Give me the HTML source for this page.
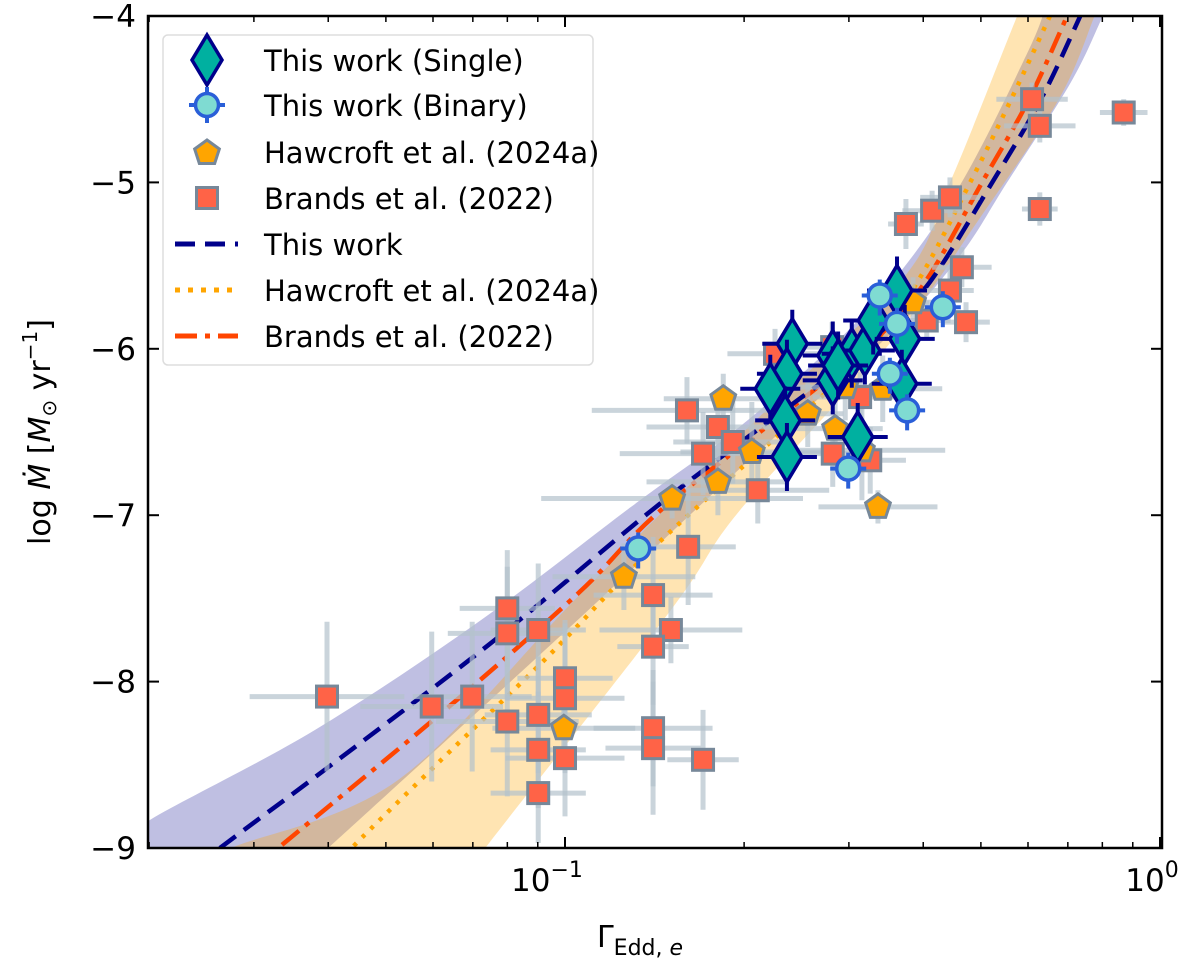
<!DOCTYPE html>
<html><head><meta charset="utf-8"><style>
body{margin:0;background:#fff;}
svg text{font-family:"DejaVu Sans","Liberation Sans",sans-serif;fill:#000;}
</style></head><body>
<svg id="chart" width="1200" height="963" xmlns="http://www.w3.org/2000/svg">
<defs><clipPath id="clip"><rect x="148" y="16" width="1014" height="832"/></clipPath></defs>
<g id="bands" clip-path="url(#clip)"></g>
<g id="fits" clip-path="url(#clip)"></g>
<g id="errs" clip-path="url(#clip)"></g>
<g id="marks" clip-path="url(#clip)"></g>
<g id="axes"></g>
<g id="legend"></g>
</svg>
<script>
// ---- data (log10 Gamma, log Mdot) ----
const brandsLg=[-1.400,-1.224,-1.156,-1.097,-1.097,-1.045,-1.000,-1.000,-1.045,-1.097,-1.045,-1.000,-1.045,-0.852,-0.822,-0.852,-0.793,-0.852,-0.852,-0.768,-0.795,-0.743,-0.718,-0.768,-0.676,-0.551,-0.504,-0.550,-0.487,-0.647,-0.427,-0.383,-0.353,-0.333,-0.353,-0.326,-0.392,-0.215,-0.202,-0.202,-0.061];
const brandsM=[-8.09,-8.15,-8.09,-7.56,-7.71,-7.69,-7.98,-8.10,-8.20,-8.24,-8.41,-8.46,-8.67,-7.48,-7.69,-7.79,-7.19,-8.28,-8.40,-8.47,-6.37,-6.47,-6.56,-6.63,-6.85,-5.99,-6.29,-6.63,-6.67,-6.03,-5.25,-5.17,-5.09,-5.51,-5.65,-5.84,-5.83,-4.50,-4.66,-5.16,-4.58];
const brandsXe=[0.13,0.12,0.1,0.08,0.1,0.08,0.08,0.1,0.09,0.12,0.08,0.1,0.08,0.1,0.12,0.06,0.08,0.1,0.08,0.06,0.16,0.12,0.1,0.14,0.12,0.06,0.08,0.06,0.06,0.08,0.03,0.05,0.05,0.05,0.04,0.04,0.04,0.06,0.06,0.03,0.04];
const brandsYe=[0.45,0.45,0.45,0.35,0.4,0.4,0.35,0.45,0.35,0.45,0.35,0.35,0.3,0.35,0.2,0.35,0.35,0.35,0.4,0.3,0.2,0.2,0.25,0.25,0.2,0.15,0.15,0.2,0.2,0.15,0.15,0.12,0.12,0.12,0.15,0.12,0.12,0.1,0.1,0.1,0.08];
const hawLg=[-0.734,-0.686,-0.743,-0.820,-0.592,-0.546,-0.529,-0.466,-0.501,-0.474,-0.415,-0.901,-1.002];
const hawM=[-6.30,-6.62,-6.80,-6.90,-6.39,-6.48,-6.23,-6.24,-6.61,-6.95,-5.72,-7.37,-8.28];
const hawXe=[0.1,0.12,0.12,0.22,0.06,0.08,0.1,0.1,0.14,0.1,0.06,0.12,0.12];
const hawYe=[0.15,0.3,0.2,0.12,0.2,0.2,0.2,0.2,0.3,0.1,0.15,0.2,0.2];
const singleLg=[-0.618,-0.627,-0.655,-0.630,-0.627,-0.550,-0.518,-0.496,-0.550,-0.482,-0.442,-0.429,-0.434,-0.508,-0.541];
const singleM=[-5.97,-6.15,-6.24,-6.43,-6.65,-6.04,-6.03,-6.01,-6.19,-5.83,-5.65,-5.94,-6.21,-6.53,-6.10];
const binLg=[-0.471,-0.442,-0.365,-0.454,-0.425,-0.524,-0.877];
const binM=[-5.68,-5.85,-5.75,-6.15,-6.37,-6.72,-7.20];
// fit lines
const fitThisLg=[-1.70,-1.58,-1.40,-1.118,-0.861,-0.70,-0.55,-0.47,-0.387,-0.282,-0.20,-0.134,-0.11];
const fitThisM=[-9.33,-9.0,-8.52,-7.75,-6.99,-6.55,-6.15,-5.9,-5.6,-5.0,-4.5,-4.0,-3.8];
const fitBrandsLg=[-1.53,-1.482,-1.208,-0.978,-0.839,-0.60,-0.48,-0.395,-0.299,-0.22,-0.156,-0.13];
const fitBrandsM=[-9.15,-9.0,-8.19,-7.47,-6.97,-6.3,-5.95,-5.6,-5.0,-4.5,-4.0,-3.8];
const fitHawLg=[-1.38,-1.353,-1.208,-1.029,-0.844,-0.62,-0.50,-0.408,-0.319,-0.25,-0.185,-0.16];
const fitHawM=[-9.1,-8.98,-8.47,-7.85,-7.17,-6.45,-6.05,-5.6,-5.0,-4.5,-4.0,-3.8];
// bands
const bandBlueUpLg=[-1.75,-1.697,-1.42,-1.141,-0.889,-0.70,-0.50,-0.35,-0.22,-0.19];
const bandBlueUpM=[-9.0,-8.83,-8.29,-7.63,-6.95,-6.45,-5.8,-5.1,-4.2,-3.9];
const bandBlueLoLg=[-1.43,-1.398,-1.0,-0.7,-0.45,-0.336,-0.257,-0.15,-0.096,-0.07];
const bandBlueLoM=[-9.1,-9.0,-7.7,-6.7,-5.9,-5.44,-5.0,-4.4,-4.0,-3.8];
const bandOrUpLg=[-1.60,-1.561,-1.28,-0.973,-0.70,-0.437,-0.353,-0.240,-0.215];
const bandOrUpM=[-9.1,-9.0,-8.59,-7.47,-6.5,-5.6,-5.0,-4.0,-3.8];
const bandOrLoLg=[-1.15,-1.134,-0.822,-0.706,-0.45,-0.30,-0.17,-0.11,-0.09];
const bandOrLoM=[-9.1,-9.0,-7.57,-6.97,-5.95,-5.2,-4.5,-4.0,-3.8];
const yTicks=[-4,-5,-6,-7,-8,-9];
const yTickLabels=["\u22124","\u22125","\u22126","\u22127","\u22128","\u22129"];

const L=148,R=1162,T=16,B=848;
const X=lg=>1160+595*lg;
const Y=m=>T+(-4-m)*166.4;
const NS="http://www.w3.org/2000/svg";
function mk(parent,tag,attrs){const e=document.createElementNS(NS,tag);for(const k in attrs)e.setAttribute(k,attrs[k]);parent.appendChild(e);return e;}
const gB=document.getElementById('bands'),gF=document.getElementById('fits'),gE=document.getElementById('errs'),gM=document.getElementById('marks'),gA=document.getElementById('axes'),gL=document.getElementById('legend');

function smoothPts(lgs,ms){return lgs.map((v,i)=>[X(v),Y(ms[i])]);}
function pathD(pts){
  let d='M'+pts[0][0]+','+pts[0][1];
  for(let i=0;i<pts.length-1;i++){const p0=pts[Math.max(0,i-1)],p1=pts[i],p2=pts[i+1],p3=pts[Math.min(pts.length-1,i+2)];
    const c1=[p1[0]+(p2[0]-p0[0])/6,p1[1]+(p2[1]-p0[1])/6],c2=[p2[0]-(p3[0]-p1[0])/6,p2[1]-(p3[1]-p1[1])/6];
    d+=` C${c1[0]},${c1[1]} ${c2[0]},${c2[1]} ${p2[0]},${p2[1]}`;}
  return d;}
function band(upLg,upM,loLg,loM,fill,op,name){
  const up=smoothPts(upLg,upM),lo=smoothPts(loLg,loM).reverse();
  let d=pathD(up)+' L'+lo[0][0]+','+lo[0][1]+' '+pathD(lo).slice(1).replace(/^[^C]*/,'')+' Z';
  const p=mk(gB,'path',{d:d,fill:fill,'fill-opacity':op});
  
  
}
band(bandBlueUpLg,bandBlueUpM,bandBlueLoLg,bandBlueLoM,'#2a2aa0',0.3,'this-work-band');
band(bandOrUpLg,bandOrUpM,bandOrLoLg,bandOrLoM,'#ffa500',0.3,'hawcroft-band');

function line(lgs,ms,stroke,dash,w,name){
  const p=mk(gF,'path',{d:pathD(smoothPts(lgs,ms)),fill:'none',stroke:stroke,'stroke-width':w,'stroke-dasharray':dash});
  
  
}
line(fitHawLg,fitHawM,'#ffa500','4 8',4.5,'hawcroft-fit-line');
line(fitBrandsLg,fitBrandsM,'#ff4500','22 8 5 8',4.5,'brands-fit-line');
line(fitThisLg,fitThisM,'#00008b','20 10',4.5,'this-work-fit-line');

function err(x,y,xe,ye,col,op,w){
  mk(gE,'line',{x1:X(x-xe),x2:X(x+xe),y1:Y(y),y2:Y(y),stroke:col,'stroke-width':w,'stroke-opacity':op});
  mk(gE,'line',{x1:X(x),x2:X(x),y1:Y(y-ye),y2:Y(y+ye),stroke:col,'stroke-width':w,'stroke-opacity':op});
}
brandsLg.forEach((v,i)=>err(v,brandsM[i],brandsXe[i],brandsYe[i],'#b4c2cc',0.7,5));
hawLg.forEach((v,i)=>err(v,hawM[i],hawXe[i],hawYe[i],'#b4c2cc',0.7,5));

function square(cx,cy,name,par){const s=mk(par||gM,'rect',{x:cx-10.5,y:cy-10.5,width:21,height:21,fill:'#ff6347',stroke:'#778899','stroke-width':3});}
function pent(cx,cy,r,name,par){let p=[];for(let k=0;k<5;k++){const a=-Math.PI/2+k*2*Math.PI/5;p.push((cx+r*Math.cos(a))+','+(cy+r*Math.sin(a)));}const s=mk(par||gM,'polygon',{points:p.join(' '),fill:'#ffa500',stroke:'#778899','stroke-width':3});return s;}
function diamond(cx,cy,name,par){const s=mk(par||gM,'polygon',{points:`${cx},${cy-25} ${cx+15},${cy} ${cx},${cy+25} ${cx-15},${cy}`,fill:'#00b0a0',stroke:'#00008b','stroke-width':3.5});}
function circ(cx,cy,name,par){const s=mk(par||gM,'circle',{cx:cx,cy:cy,r:11.5,fill:'#7fdbd2',stroke:'#2a5fd8','stroke-width':3.5});}

brandsLg.forEach((v,i)=>square(X(v),Y(brandsM[i]),'brands-point'));
hawLg.forEach((v,i)=>pent(X(v),Y(hawM[i]),13,'hawcroft-point'));
singleLg.forEach((v,i)=>{const cx=X(v),cy=Y(singleM[i]);
  mk(gM,'line',{x1:cx-30,x2:cx+30,y1:cy,y2:cy,stroke:'#00008b','stroke-width':4});
  mk(gM,'line',{x1:cx,x2:cx,y1:cy-34,y2:cy+34,stroke:'#00008b','stroke-width':4});
  diamond(cx,cy,'single-star-point');});
binLg.forEach((v,i)=>{const cx=X(v),cy=Y(binM[i]);
  mk(gM,'line',{x1:cx-18,x2:cx+18,y1:cy,y2:cy,stroke:'#2a5fd8','stroke-width':4});
  mk(gM,'line',{x1:cx,x2:cx,y1:cy-16,y2:cy+20,stroke:'#2a5fd8','stroke-width':4});
  circ(cx,cy,'binary-star-point');});

const fr=mk(gA,'rect',{x:L,y:T,width:R-L,height:B-T,fill:'none',stroke:'#000','stroke-width':2.5});

yTicks.forEach((t,i)=>{const y=Y(t);
  mk(gA,'line',{x1:L,x2:L+11,y1:y,y2:y,stroke:'#000','stroke-width':2});
  mk(gA,'line',{x1:R,x2:R-11,y1:y,y2:y,stroke:'#000','stroke-width':2});
  const tx=mk(gA,'text',{x:L-12,y:y+11,'text-anchor':'end','font-size':31});tx.textContent=yTickLabels[i];
  });
for(let d=-2;d<=0;d++){for(let k=1;k<10;k++){const lg=d+Math.log10(k);const x=X(lg);if(x<L-1||x>R+1)continue;
  const len=k===1?11:6;
  mk(gA,'line',{x1:x,x2:x,y1:B,y2:B-len,stroke:'#000','stroke-width':k===1?2:1.5});
  mk(gA,'line',{x1:x,x2:x,y1:T,y2:T+len,stroke:'#000','stroke-width':k===1?2:1.5});}}
[[-1,"\u22121",-18],[0,"0",-8]].forEach(([d,s,off])=>{const t=mk(gA,'text',{x:X(d)+off,y:891,'text-anchor':'middle','font-size':31});
  t.innerHTML='10<tspan dy="-14" font-size="22">'+s+'</tspan>';
  });
const xl=mk(gA,'text',{x:640,y:947,'text-anchor':'middle','font-size':30});
xl.innerHTML='\u0393<tspan dy="8" font-size="22">Edd, <tspan font-style="italic">e</tspan></tspan>';

const yl=mk(gA,'text',{x:0,y:0,'text-anchor':'middle','font-size':30,transform:'translate(50,432) rotate(-90)'});
yl.innerHTML='log <tspan font-style="italic">\u1E40</tspan>  [<tspan font-style="italic">M</tspan><tspan dy="6" font-size="20">\u2299</tspan><tspan dy="-6"> yr</tspan><tspan dy="-13" font-size="20">\u22121</tspan><tspan dy="13">]</tspan>';


const lb=mk(gL,'rect',{x:163,y:35,width:430,height:330,rx:5,fill:'#fff','fill-opacity':0.85,stroke:'#ddd','stroke-width':1.5});

const labels=["This work (Single)","This work (Binary)","Hawcroft et al. (2024a)","Brands et al. (2022)","This work","Hawcroft et al. (2024a)","Brands et al. (2022)"];
const rows=[60,105,152,198,244,290,336];
labels.forEach((s,i)=>{const t=mk(gL,'text',{x:264,y:rows[i]+11,'font-size':29});t.textContent=s;
  });
diamond(207,60,'legend-single-marker',gL);
mk(gL,'line',{x1:207,x2:207,y1:105-18,y2:105+18,stroke:'#2a5fd8','stroke-width':4});
mk(gL,'line',{x1:189,x2:225,y1:105,y2:105,stroke:'#2a5fd8','stroke-width':4});
circ(207,105,'legend-binary-marker',gL);
pent(207,153,13,'legend-hawcroft-marker',gL);
square(207,198,'legend-brands-marker',gL);
mk(gL,'line',{x1:175,x2:238,y1:244,y2:244,stroke:'#00008b','stroke-width':5,'stroke-dasharray':'20 10'});
mk(gL,'line',{x1:175,x2:238,y1:290,y2:290,stroke:'#ffa500','stroke-width':5,'stroke-dasharray':'5 8'});
mk(gL,'line',{x1:175,x2:238,y1:336,y2:336,stroke:'#ff4500','stroke-width':5,'stroke-dasharray':'22 8 5 8'});
</script>
</body></html>
